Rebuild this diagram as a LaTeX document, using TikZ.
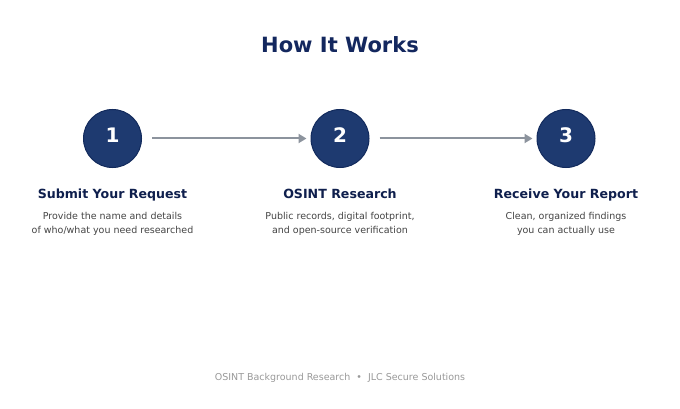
\documentclass[tikz,border=0pt]{standalone}
\usepackage{fontspec}
\setmainfont{DejaVu Sans}
\usetikzlibrary{arrows.meta}
\definecolor{navy}{HTML}{1E3A70}
\definecolor{navyline}{HTML}{122A5C}
\definecolor{titlec}{HTML}{13275E}
\definecolor{steptc}{HTML}{0F1F4D}
\definecolor{descc}{HTML}{444444}
\definecolor{footc}{HTML}{999999}
\definecolor{arrowc}{HTML}{8C939D}
\tikzset{
  stepcircle/.style={circle, fill=navy, draw=navyline, line width=1pt, minimum size=58pt, inner sep=0pt, text=white, text height=14.6pt, text depth=6pt, font=\fontsize{20}{24}\selectfont\bfseries},
  steptitle/.style={anchor=base, text=steptc, font=\fontsize{12.6}{15}\selectfont\bfseries},
  stepdesc/.style={text=descc, font=\fontsize{9.5}{14}\selectfont, align=center},
  flow/.style={draw=arrowc, line width=2pt, -{Triangle[length=8pt,width=9pt]}, shorten <=10pt, shorten >=4pt}
}
\begin{document}
\begin{tikzpicture}[x=1pt,y=-1pt]
\useasboundingbox[fill=white] (0,0) rectangle (680,409);
\node[text=titlec, font=\fontsize{21}{25}\selectfont\bfseries] (title) at (340,45) {How It Works};
\node[stepcircle] (c1) at (112.5,138.5) {1};
\node[stepcircle] (c2) at (340,138.5) {2};
\node[stepcircle] (c3) at (566,138.5) {3};
\draw[flow] (c1) -- (c2);
\draw[flow] (c2) -- (c3);
\node[steptitle] (t1) at (112.5,198.5) {Submit Your Request};
\node[steptitle] (t2) at (340,198.5) {OSINT Research};
\node[steptitle] (t3) at (566,198.5) {Receive Your Report};
\node[stepdesc] (d1) at (112.5,223.5) {Provide the name and details\\of who/what you need researched};
\node[stepdesc] (d2) at (340,223.5) {Public records, digital footprint,\\and open-source verification};
\node[stepdesc] (d3) at (566,223.5) {Clean, organized findings\\you can actually use};
\node[text=footc, font=\fontsize{9.5}{12}\selectfont] (foot) at (340,377.5) {OSINT Background Research \ \textbullet\ \ JLC Secure Solutions};
\end{tikzpicture}
\end{document}
